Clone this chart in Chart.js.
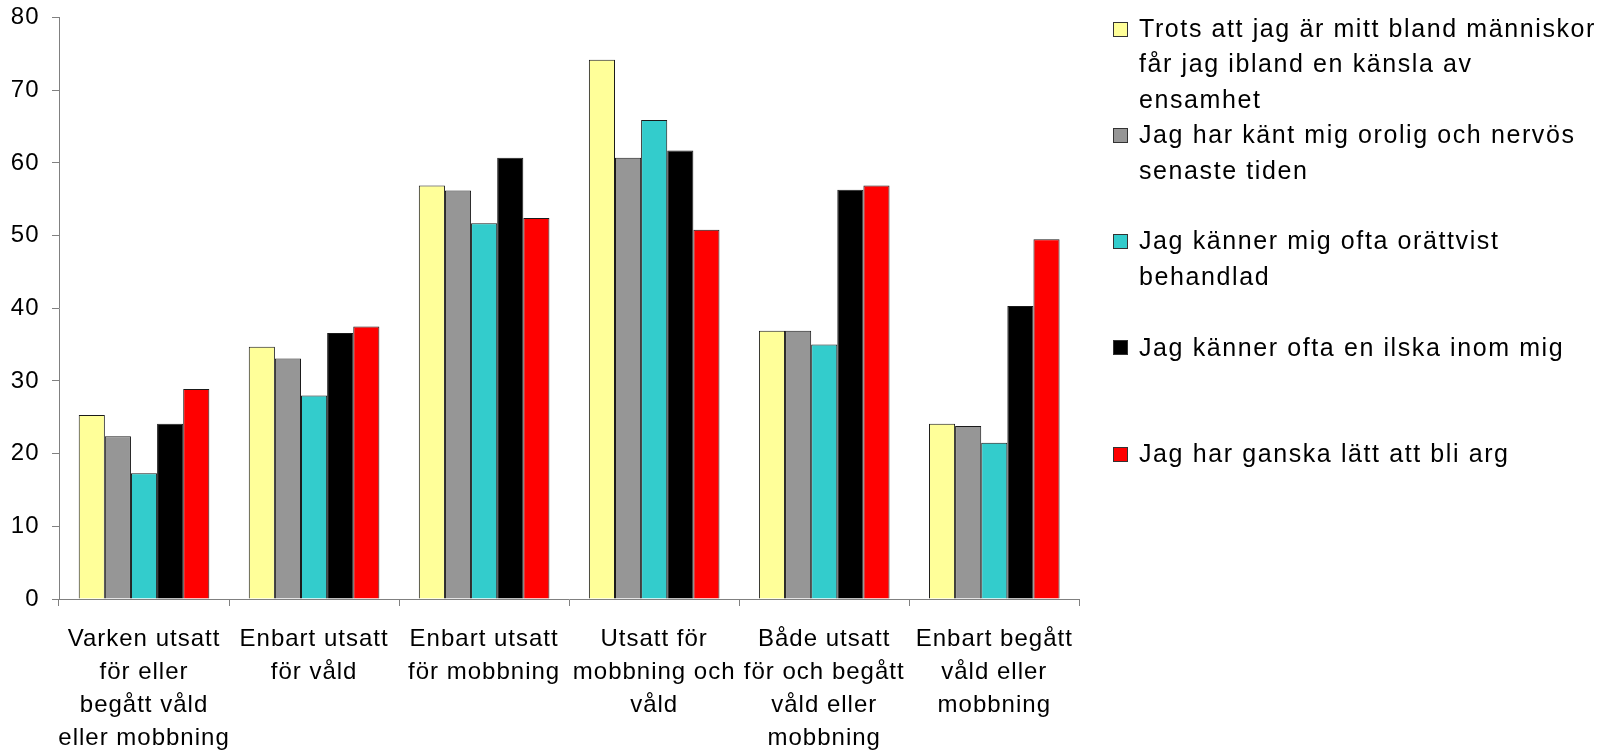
<!DOCTYPE html>
<html>
<head>
<meta charset="utf-8">
<script src="https://cdn.jsdelivr.net/npm/chart.js@4.4.0/dist/chart.umd.min.js"></script>
<style>
  html, body { margin: 0; padding: 0; background: #ffffff; }
  #wrap { width: 1611px; height: 756px; }
</style>
</head>
<body>
<div id="wrap"><canvas id="c" width="1611" height="756"></canvas></div>
<script>
// ---- data ----
const categories = [
  ["Varken utsatt", "för eller", "begått våld", "eller mobbning"],
  ["Enbart utsatt", "för våld"],
  ["Enbart utsatt", "för mobbning"],
  ["Utsatt för", "mobbning och", "våld"],
  ["Både utsatt", "för och begått", "våld eller", "mobbning"],
  ["Enbart begått", "våld eller", "mobbning"]
];
const seriesNames = [
  "Trots att jag är mitt bland människor får jag ibland en känsla av ensamhet",
  "Jag har känt mig orolig och nervös senaste tiden",
  "Jag känner mig ofta orättvist behandlad",
  "Jag känner ofta en ilska inom mig",
  "Jag har ganska lätt att bli arg"
];
const legendLines = [
  ["Trots att jag är mitt bland människor", "får jag ibland en känsla av", "ensamhet"],
  ["Jag har känt mig orolig och nervös", "senaste tiden"],
  ["Jag känner mig ofta orättvist", "behandlad"],
  ["Jag känner ofta en ilska inom mig"],
  ["Jag har ganska lätt att bli arg"]
];
const ensamhet = [25.3, 34.7, 56.9, 74.2, 36.9, 24.1];
const orolig   = [22.4, 33.1, 56.2, 60.7, 36.9, 23.8];
const orattvist = [17.3, 28.0, 51.7, 65.9, 35.0, 21.5];
const ilska    = [24.1, 36.6, 60.7, 61.7, 56.3, 40.3];
const arg      = [28.9, 37.5, 52.4, 50.8, 56.9, 49.5];
const yTicks = [0, 10, 20, 30, 40, 50, 60, 70, 80];

const seriesValues = [ensamhet, orolig, orattvist, ilska, arg];
const colors = ["#FFFF99", "#969696", "#33CCCC", "#000000", "#FF0000"];

const FONT = "'Liberation Sans', Arial, sans-serif";

const spacingPlugin = {
  id: 'spacing',
  beforeUpdate(chart) { chart.ctx.letterSpacing = '1px'; },
  beforeLayout(chart) { chart.ctx.letterSpacing = '1px'; },
  beforeDraw(chart) { chart.ctx.letterSpacing = '1px'; }
};

const legendPlugin = {
  id: 'sideLegend',
  afterDraw(chart) {
    const ctx = chart.ctx;
    ctx.save();
    ctx.letterSpacing = '1.6px';
    ctx.font = "25px " + FONT;
    ctx.textBaseline = 'middle';
    ctx.textAlign = 'left';
    const x0 = 1113, size = 15, textX = 1139;
    const startY = 29, step = 106.3, lineH = 35.5;
    chart.data.datasets.forEach((ds, i) => {
      const cy = startY + i * step;
      const top = Math.round(cy - size / 2);
      ctx.fillStyle = ds.backgroundColor;
      ctx.fillRect(x0, top, size, size);
      ctx.strokeStyle = '#333333';
      ctx.lineWidth = 1;
      ctx.strokeRect(x0 + 0.5, top + 0.5, size - 1, size - 1);
      ctx.fillStyle = '#000000';
      legendLines[i].forEach((line, j) => {
        ctx.fillText(line, textX, cy + 1 + j * lineH);
      });
    });
    ctx.restore();
  }
};

new Chart(document.getElementById('c'), {
  type: 'bar',
  data: {
    labels: categories,
    datasets: seriesNames.map((name, i) => ({
      label: name,
      data: seriesValues[i],
      backgroundColor: colors[i],
      borderColor: '#1a1a1a',
      borderWidth: 1,
      categoryPercentage: 0.768,
      barPercentage: 1.0
    }))
  },
  options: {
    responsive: false,
    devicePixelRatio: 1,
    animation: false,
    layout: { padding: { top: 17.5, right: 531.7, bottom: 0, left: 0 } },
    plugins: {
      legend: { display: false },
      tooltip: { enabled: false },
      title: { display: false }
    },
    scales: {
      x: {
        grid: {
          display: true,
          drawOnChartArea: false,
          drawTicks: true,
          tickLength: 7,
          color: '#808080',
          lineWidth: 1,
          offset: true
        },
        border: { display: true, color: '#808080', width: 1 },
        ticks: {
          autoSkip: false,
          maxRotation: 0,
          minRotation: 0,
          padding: 17,
          color: '#000000',
          font: { family: FONT, size: 24, lineHeight: 1.375 }
        },
        afterFit(scale) { scale.height = 157; scale.paddingLeft = 0; scale.paddingRight = 0; }
      },
      y: {
        min: 0,
        max: 80,
        afterBuildTicks(scale) { scale.ticks = yTicks.map(v => ({ value: v })); },
        grid: {
          display: true,
          drawOnChartArea: false,
          drawTicks: true,
          tickLength: 7,
          color: '#808080',
          lineWidth: 1
        },
        border: { display: true, color: '#808080', width: 1 },
        ticks: {
          padding: 12.5,
          color: '#000000',
          font: { family: FONT, size: 24 }
        },
        afterFit(scale) { scale.width = 59; scale.paddingTop = 0; scale.paddingBottom = 0; }
      }
    }
  },
  plugins: [spacingPlugin, legendPlugin]
});
</script>
</body>
</html>
